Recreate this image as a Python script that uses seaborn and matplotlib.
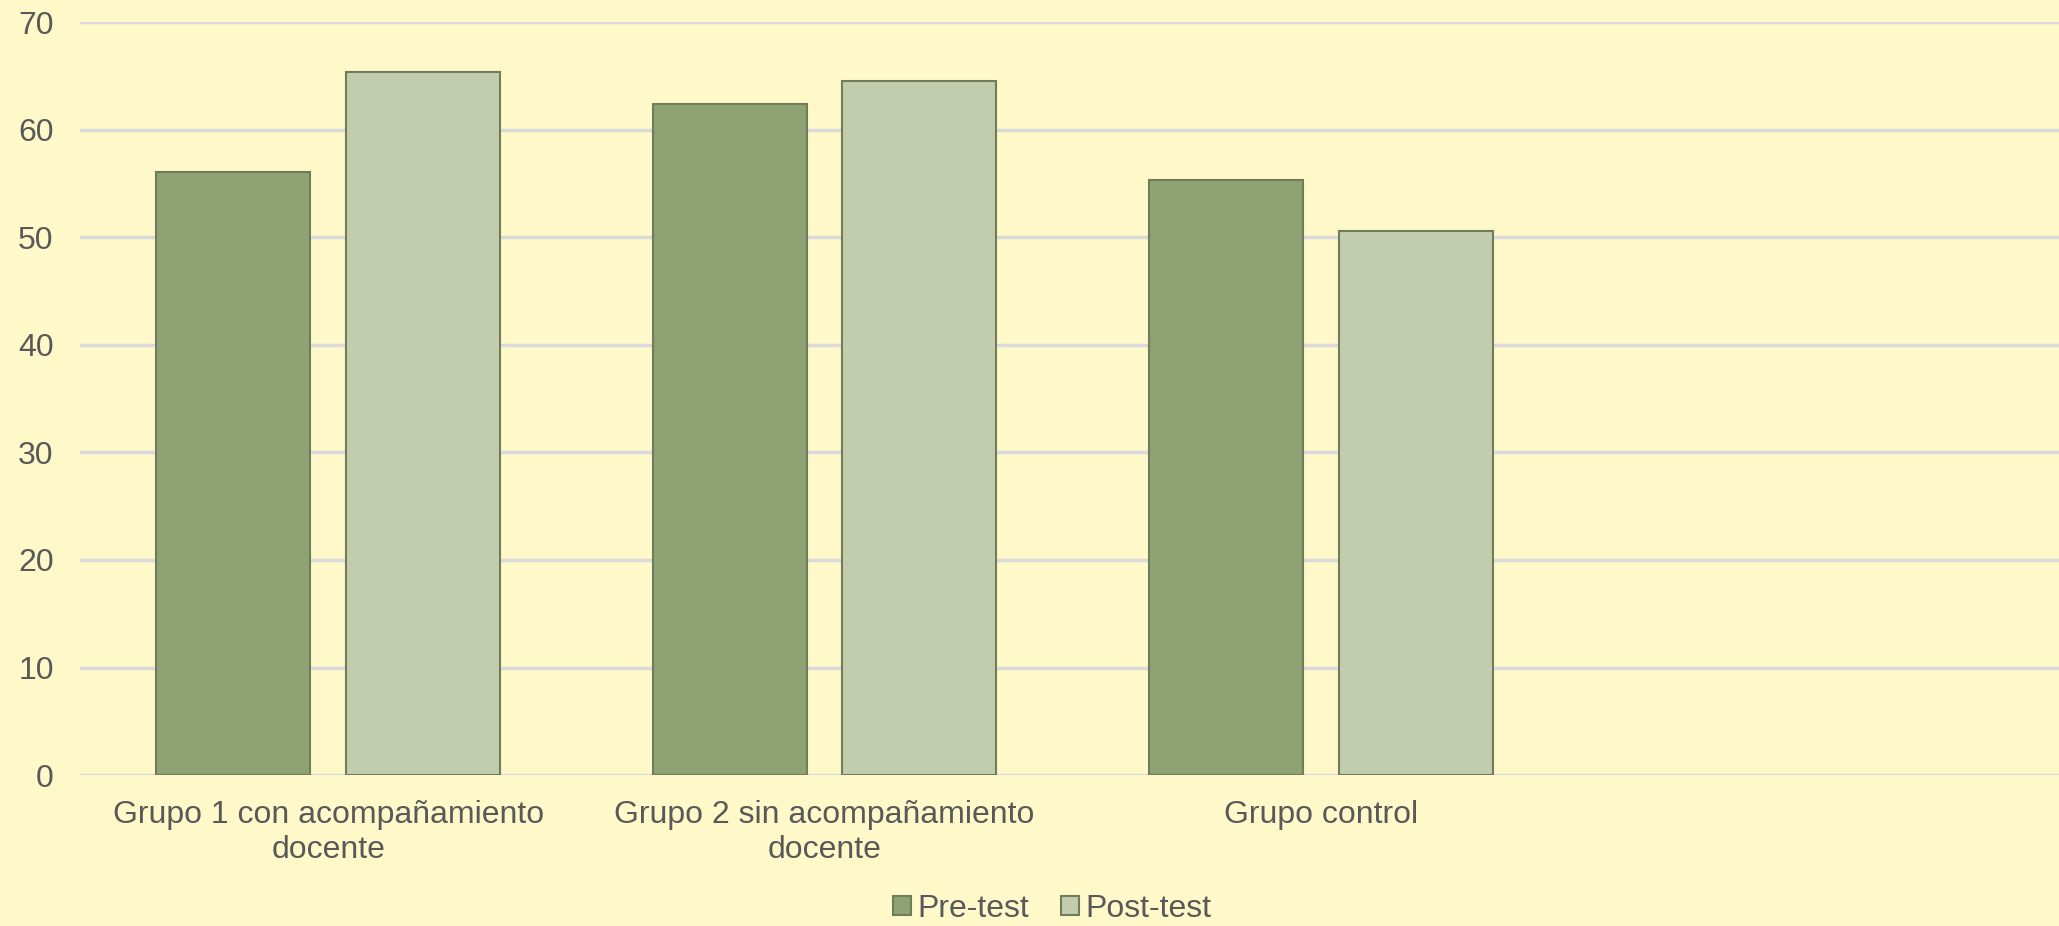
import pandas as pd
import matplotlib.pyplot as plt
import seaborn as sns

# Chart values
grupos = ["Grupo 1 con acompañamiento\ndocente", "Grupo 2 sin acompañamiento\ndocente", "Grupo control"]
pre_test = [56.1, 62.4, 55.3]
post_test = [65.4, 64.5, 50.6]
series = ["Pre-test", "Post-test"]

df = pd.DataFrame({
    "Grupo": grupos * 2,
    "Valor": pre_test + post_test,
    "Prueba": [series[0]] * len(grupos) + [series[1]] * len(grupos),
})

sns.set_style("white")
plt.rcParams['font.family'] = ['Liberation Sans', 'DejaVu Sans']

bg = "#FFF9C9"
colores = {"Pre-test": "#8FA274", "Post-test": "#C1CDAD"}

fig = plt.figure(figsize=(20.59, 9.26), dpi=100, facecolor=bg)
ax = fig.add_axes([0.0389, 0.163, 0.9643, 0.813])
ax.set_facecolor(bg)

sns.barplot(data=df, x="Grupo", y="Valor", hue="Prueba", order=grupos,
            hue_order=series, palette=colores, width=0.764, gap=0.188,
            edgecolor="#6F7D5A", linewidth=1.5, saturation=1, ax=ax, zorder=3)

# Fourth, empty category slot on the right
ax.set_xlim(-0.5, 3.5)
ax.set_ylim(0, 70)
ax.set_yticks(range(0, 71, 10))
ax.yaxis.grid(True, color="#DAD9DC", linewidth=2.5, zorder=0)
ax.set_axisbelow(True)
for s in ax.spines.values():
    s.set_visible(False)
ax.tick_params(axis="both", length=0, labelsize=23, colors="#595959")
ax.tick_params(axis="x", pad=18)
ax.tick_params(axis="y", pad=19)
ax.set_xlabel("")
ax.set_ylabel("")

handles, labels = ax.get_legend_handles_labels()
ax.get_legend().remove()
fig.legend(handles, labels, loc="lower center", bbox_to_anchor=(0.511, -0.029), ncol=2,
           frameon=False, fontsize=23, labelcolor="#595959", handlelength=0.55,
           handleheight=0.55, handletextpad=0.2, columnspacing=1.0)

plt.savefig("out.png", dpi=100, facecolor=bg)
